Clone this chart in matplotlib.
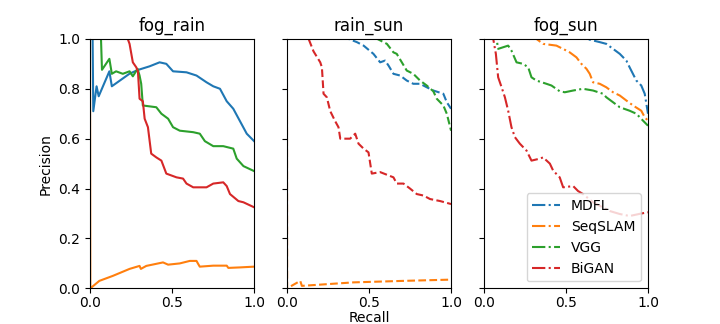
import matplotlib
matplotlib.use("Agg")
import matplotlib.pyplot as plt

titles = ["fog_rain", "rain_sun", "fog_sun"]
methods = ["MDFL", "SeqSLAM", "VGG", "BiGAN"]
colors = ["#1f77b4", "#ff7f0e", "#2ca02c", "#d62728"]
styles = ["-", "--", "-."]

# ---- fog_rain ----
fr_mdfl_r = [0.0, 0.016, 0.02, 0.04, 0.053, 0.118, 0.133, 0.24, 0.29, 0.363, 0.424, 0.465, 0.506,
             0.588, 0.649, 0.71, 0.751, 0.792, 0.833, 0.873, 0.914, 0.955, 1.0]
fr_mdfl_p = [1.0, 1.0, 0.71, 0.81, 0.77, 0.87, 0.81, 0.86, 0.875, 0.89, 0.906, 0.90, 0.87,
             0.866, 0.853, 0.826, 0.81, 0.80, 0.75, 0.72, 0.67, 0.62, 0.59]
fr_seq_r = [0.0, 0.002, 0.057, 0.139, 0.241, 0.302, 0.31, 0.343, 0.445, 0.476, 0.547, 0.608, 0.649,
            0.659, 0.669, 0.751, 0.833, 0.843, 0.914, 1.0]
fr_seq_p = [1.0, 0.0, 0.03, 0.05, 0.078, 0.09, 0.078, 0.09, 0.104, 0.095, 0.10, 0.11, 0.11,
            0.098, 0.087, 0.091, 0.091, 0.082, 0.084, 0.087]
fr_vgg_r = [0.0, 0.067, 0.073, 0.118, 0.133, 0.159, 0.2, 0.241, 0.261, 0.29, 0.302, 0.312, 0.322,
            0.404, 0.435, 0.476, 0.506, 0.547, 0.629, 0.669, 0.7, 0.751, 0.812, 0.873, 0.894, 0.935, 1.0]
fr_vgg_p = [1.0, 1.0, 0.876, 0.92, 0.86, 0.87, 0.86, 0.87, 0.85, 0.88, 0.853, 0.82, 0.733,
            0.726, 0.70, 0.68, 0.646, 0.632, 0.626, 0.62, 0.59, 0.57, 0.57, 0.56, 0.52, 0.49, 0.47]
fr_bigan_r = [0.0, 0.23, 0.241, 0.261, 0.282, 0.292, 0.302, 0.322, 0.333, 0.353, 0.373, 0.404,
              0.435, 0.465, 0.527, 0.567, 0.588, 0.629, 0.71, 0.751, 0.812, 0.833, 0.853,
              0.904, 0.935, 1.0]
fr_bigan_p = [1.0, 1.0, 0.98, 0.906, 0.886, 0.87, 0.76, 0.75, 0.68, 0.646, 0.54, 0.525,
              0.512, 0.46, 0.445, 0.44, 0.42, 0.405, 0.405, 0.42, 0.425, 0.41, 0.378,
              0.35, 0.345, 0.325]

# ---- rain_sun ----
rs_mdfl_r = [0.0, 0.375, 0.426, 0.467, 0.527, 0.568, 0.598, 0.619, 0.649, 0.69, 0.73, 0.77,
             0.811, 0.852, 0.892, 0.953, 0.974, 1.0]
rs_mdfl_p = [1.0, 1.0, 0.987, 0.973, 0.94, 0.906, 0.913, 0.893, 0.86, 0.853, 0.833, 0.82,
             0.82, 0.806, 0.793, 0.78, 0.746, 0.72]
rs_seq_r = [0.0, 0.001, 0.081, 0.091, 0.406, 0.71, 1.0]
rs_seq_p = [1.0, 0.0, 0.03, 0.01, 0.024, 0.03, 0.035]
rs_vgg_r = [0.0, 0.55, 0.609, 0.649, 0.669, 0.70, 0.73, 0.77, 0.811, 0.852, 0.892, 0.913,
            0.953, 0.974, 1.0]
rs_vgg_p = [1.0, 1.0, 0.98, 0.946, 0.94, 0.906, 0.873, 0.86, 0.833, 0.813, 0.79, 0.76,
            0.733, 0.70, 0.632]
rs_bigan_r = [0.0, 0.132, 0.162, 0.203, 0.213, 0.223, 0.243, 0.264, 0.294, 0.314, 0.325, 0.385,
              0.416, 0.436, 0.467, 0.497, 0.517, 0.568, 0.649, 0.669, 0.71, 0.75, 0.791,
              0.832, 0.872, 0.933, 1.0]
rs_bigan_p = [1.0, 1.0, 0.95, 0.906, 0.886, 0.78, 0.766, 0.71, 0.67, 0.646, 0.60, 0.60,
              0.62, 0.58, 0.56, 0.545, 0.46, 0.466, 0.445, 0.42, 0.42, 0.40, 0.378,
              0.372, 0.358, 0.35, 0.338]

# ---- fog_sun ----
fs_mdfl_r = [0.0, 0.625, 0.706, 0.746, 0.787, 0.828, 0.868, 0.888, 0.929, 0.959, 0.98, 0.99, 1.0]
fs_mdfl_p = [1.0, 1.0, 0.987, 0.98, 0.96, 0.94, 0.913, 0.886, 0.833, 0.813, 0.78, 0.74, 0.70]
fs_seq_r = [0.0, 0.32, 0.361, 0.442, 0.503, 0.523, 0.564, 0.594, 0.625, 0.645, 0.665, 0.706,
            0.746, 0.787, 0.828, 0.868, 0.909, 0.959, 0.98, 1.0]
fs_seq_p = [1.0, 1.0, 0.98, 0.973, 0.953, 0.946, 0.926, 0.90, 0.88, 0.86, 0.826, 0.82,
            0.806, 0.786, 0.773, 0.753, 0.733, 0.712, 0.686, 0.672]
fs_vgg_r = [0.0, 0.077, 0.087, 0.148, 0.168, 0.199, 0.239, 0.27, 0.29, 0.32, 0.381, 0.412,
            0.462, 0.493, 0.544, 0.604, 0.665, 0.726, 0.746, 0.787, 0.828, 0.888, 0.929,
            0.97, 1.0]
fs_vgg_p = [1.0, 1.0, 0.96, 0.973, 0.953, 0.906, 0.90, 0.886, 0.846, 0.833, 0.82, 0.813,
            0.79, 0.786, 0.793, 0.80, 0.793, 0.78, 0.766, 0.746, 0.726, 0.712, 0.70,
            0.672, 0.652]
fs_bigan_r = [0.0, 0.057, 0.073, 0.087, 0.108, 0.128, 0.148, 0.168, 0.189, 0.219, 0.26, 0.29,
              0.341, 0.361, 0.402, 0.422, 0.462, 0.483, 0.544, 0.574, 0.604, 0.665, 0.767,
              0.828, 0.888, 0.959, 1.0]
fs_bigan_p = [1.0, 1.0, 0.94, 0.846, 0.806, 0.766, 0.712, 0.646, 0.606, 0.58, 0.552, 0.512,
              0.52, 0.525, 0.50, 0.472, 0.445, 0.405, 0.41, 0.39, 0.378, 0.345, 0.31,
              0.298, 0.29, 0.30, 0.305]

panels = [
    [(fr_mdfl_r, fr_mdfl_p), (fr_seq_r, fr_seq_p), (fr_vgg_r, fr_vgg_p), (fr_bigan_r, fr_bigan_p)],
    [(rs_mdfl_r, rs_mdfl_p), (rs_seq_r, rs_seq_p), (rs_vgg_r, rs_vgg_p), (rs_bigan_r, rs_bigan_p)],
    [(fs_mdfl_r, fs_mdfl_p), (fs_seq_r, fs_seq_p), (fs_vgg_r, fs_vgg_p), (fs_bigan_r, fs_bigan_p)],
]

fig, axes = plt.subplots(1, 3, figsize=(7.2, 3.24), dpi=100, sharey=True)
for i, ax in enumerate(axes):
    for j, (r, p) in enumerate(panels[i]):
        ax.plot(r, p, color=colors[j], linestyle=styles[i], linewidth=1.5, label=methods[j])
    ax.set_title(titles[i])
    ax.set_xlim(0, 1)
    ax.set_ylim(0, 1)
    ax.set_xticks([0.0, 0.5, 1.0])
    ax.tick_params(axis="x", pad=2)
axes[0].set_ylabel("Precision")
axes[1].set_xlabel("Recall", labelpad=1)
axes[2].legend(loc="lower right")
fig.savefig("out.png", dpi=100)
